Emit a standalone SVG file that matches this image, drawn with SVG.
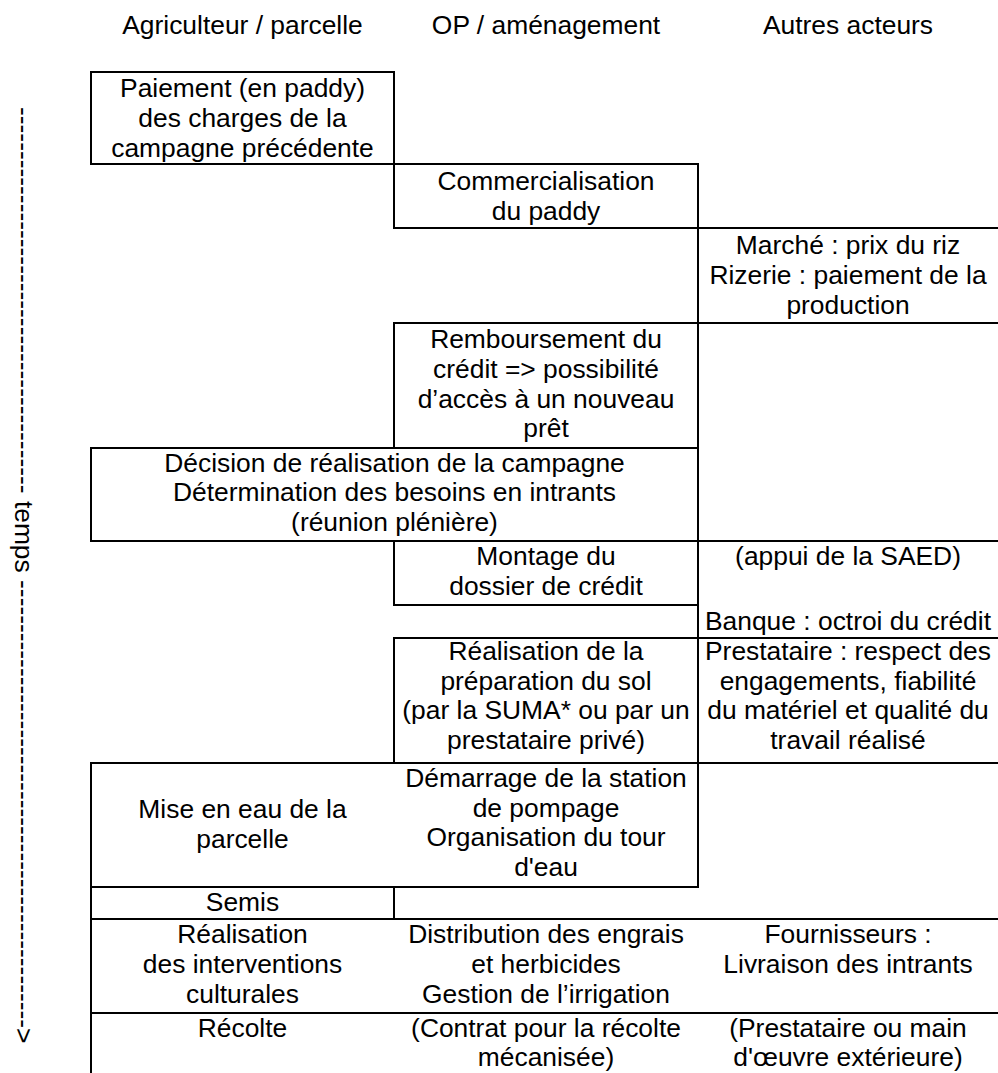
<svg xmlns="http://www.w3.org/2000/svg" width="998" height="1073" viewBox="0 0 998 1073">
<style>
.t { font-family: "Liberation Sans", Arial, sans-serif; font-size: 26px; fill: #000; text-anchor: middle; }
.ta { font-family: "Liberation Sans", Arial, sans-serif; font-size: 26px; fill: #000; }
.ln { stroke: #000; stroke-width: 2; fill: none; }
</style>
<rect width="998" height="1073" fill="#fff"/>
<g id="headers">
<text class="t" transform="translate(242.5 0) scale(1.015 1)"><tspan x="0" y="34">Agriculteur / parcelle</tspan></text>
<text class="t" transform="translate(546 0) scale(1.015 1)"><tspan x="0" y="34">OP / aménagement</tspan></text>
<text class="t" transform="translate(848 0) scale(1.015 1)"><tspan x="0" y="34">Autres acteurs</tspan></text>
</g>
<g id="connectors">
<text class="ta" transform="translate(14.7 107) rotate(90) scale(1.015 1)" x="0" y="0">-------------------------------------------- temps ---------------------------------------------------&gt;</text>
</g>
<g id="paiement">
<rect class="ln" x="91" y="72" width="303" height="92"/>
<text class="t" transform="translate(242.5 0) scale(1.015 1)"><tspan x="0" y="97">Paiement (en paddy)</tspan><tspan x="0" y="126.8">des charges de la</tspan><tspan x="0" y="156.6">campagne précédente</tspan></text>
</g>
<g id="commercialisation">
<rect class="ln" x="394" y="164" width="304" height="64"/>
<text class="t" transform="translate(546 0) scale(1.015 1)"><tspan x="0" y="190">Commercialisation</tspan><tspan x="0" y="219.7">du paddy</tspan></text>
</g>
<g id="marche">
<path class="ln" d="M698 228H998M698 228V323M698 323H998"/>
<text class="t" transform="translate(848 0) scale(1.015 1)"><tspan x="0" y="254.5">Marché : prix du riz</tspan><tspan x="0" y="284.2">Rizerie : paiement de la</tspan><tspan x="0" y="313.9">production</tspan></text>
</g>
<g id="remboursement">
<rect class="ln" x="394" y="323" width="304" height="125"/>
<text class="t" transform="translate(546 0) scale(1.015 1)"><tspan x="0" y="348.3">Remboursement du</tspan><tspan x="0" y="378">crédit =&gt; possibilité</tspan><tspan x="0" y="407.7">d’accès à un nouveau</tspan><tspan x="0" y="437.4">prêt</tspan></text>
</g>
<g id="decision">
<rect class="ln" x="91" y="448" width="607" height="93"/>
<text class="t" transform="translate(394.5 0) scale(1.015 1)"><tspan x="0" y="472">Décision de réalisation de la campagne</tspan><tspan x="0" y="501.5">Détermination des besoins en intrants</tspan><tspan x="0" y="531">(réunion plénière)</tspan></text>
</g>
<g id="montage">
<rect class="ln" x="394" y="541" width="304" height="64"/>
<text class="t" transform="translate(546 0) scale(1.015 1)"><tspan x="0" y="565.5">Montage du</tspan><tspan x="0" y="595.2">dossier de crédit</tspan></text>
</g>
<g id="saed-banque">
<path class="ln" d="M698 541H998M698 541V638M698 638H998"/>
<text class="t" transform="translate(848 0) scale(1.015 1)"><tspan x="0" y="565.5">(appui de la SAED)</tspan><tspan x="0" y="630">Banque : octroi du crédit</tspan></text>
</g>
<g id="preparation-sol">
<rect class="ln" x="394" y="638" width="304" height="125"/>
<text class="t" transform="translate(546 0) scale(1.015 1)"><tspan x="0" y="660">Réalisation de la</tspan><tspan x="0" y="689.7">préparation du sol</tspan><tspan x="0" y="719.4">(par la SUMA* ou par un</tspan><tspan x="0" y="749.1">prestataire privé)</tspan></text>
</g>
<g id="prestataire">
<path class="ln" d="M698 638H998M698 763H998"/>
<text class="t" transform="translate(848 0) scale(1.015 1)"><tspan x="0" y="660">Prestataire : respect des</tspan><tspan x="0" y="689.7">engagements, fiabilité</tspan><tspan x="0" y="719.4">du matériel et qualité du</tspan><tspan x="0" y="749.1">travail réalisé</tspan></text>
</g>
<g id="mise-en-eau">
<rect class="ln" x="91" y="763" width="607" height="124"/>
<text class="t" transform="translate(242.5 0) scale(1.015 1)"><tspan x="0" y="818">Mise en eau de la</tspan><tspan x="0" y="847.7">parcelle</tspan></text>
<text class="t" transform="translate(546 0) scale(1.015 1)"><tspan x="0" y="787">Démarrage de la station</tspan><tspan x="0" y="816.7">de pompage</tspan><tspan x="0" y="846.4">Organisation du tour</tspan><tspan x="0" y="876.1">d'eau</tspan></text>
</g>
<g id="semis">
<rect class="ln" x="91" y="887" width="303" height="32"/>
<text class="t" transform="translate(242.5 0) scale(1.015 1)"><tspan x="0" y="911.5">Semis</tspan></text>
</g>
<g id="interventions">
<path class="ln" d="M91 919H998M91 919V1013M91 1013H998"/>
<text class="t" transform="translate(242.5 0) scale(1.015 1)"><tspan x="0" y="943.3">Réalisation</tspan><tspan x="0" y="973">des interventions</tspan><tspan x="0" y="1002.7">culturales</tspan></text>
<text class="t" transform="translate(546 0) scale(1.015 1)"><tspan x="0" y="943.3">Distribution des engrais</tspan><tspan x="0" y="973">et herbicides</tspan><tspan x="0" y="1002.7">Gestion de l’irrigation</tspan></text>
<text class="t" transform="translate(848 0) scale(1.015 1)"><tspan x="0" y="943.3">Fournisseurs :</tspan><tspan x="0" y="973">Livraison des intrants</tspan></text>
</g>
<g id="recolte">
<path class="ln" d="M91 1013V1074"/>
<text class="t" transform="translate(242.5 0) scale(1.015 1)"><tspan x="0" y="1036.7">Récolte</tspan></text>
<text class="t" transform="translate(546 0) scale(1.015 1)"><tspan x="0" y="1036.7">(Contrat pour la récolte</tspan><tspan x="0" y="1066.4">mécanisée)</tspan></text>
<text class="t" transform="translate(848 0) scale(1.015 1)"><tspan x="0" y="1036.7">(Prestataire ou main</tspan><tspan x="0" y="1066.4">d'œuvre extérieure)</tspan></text>
</g>
</svg>
